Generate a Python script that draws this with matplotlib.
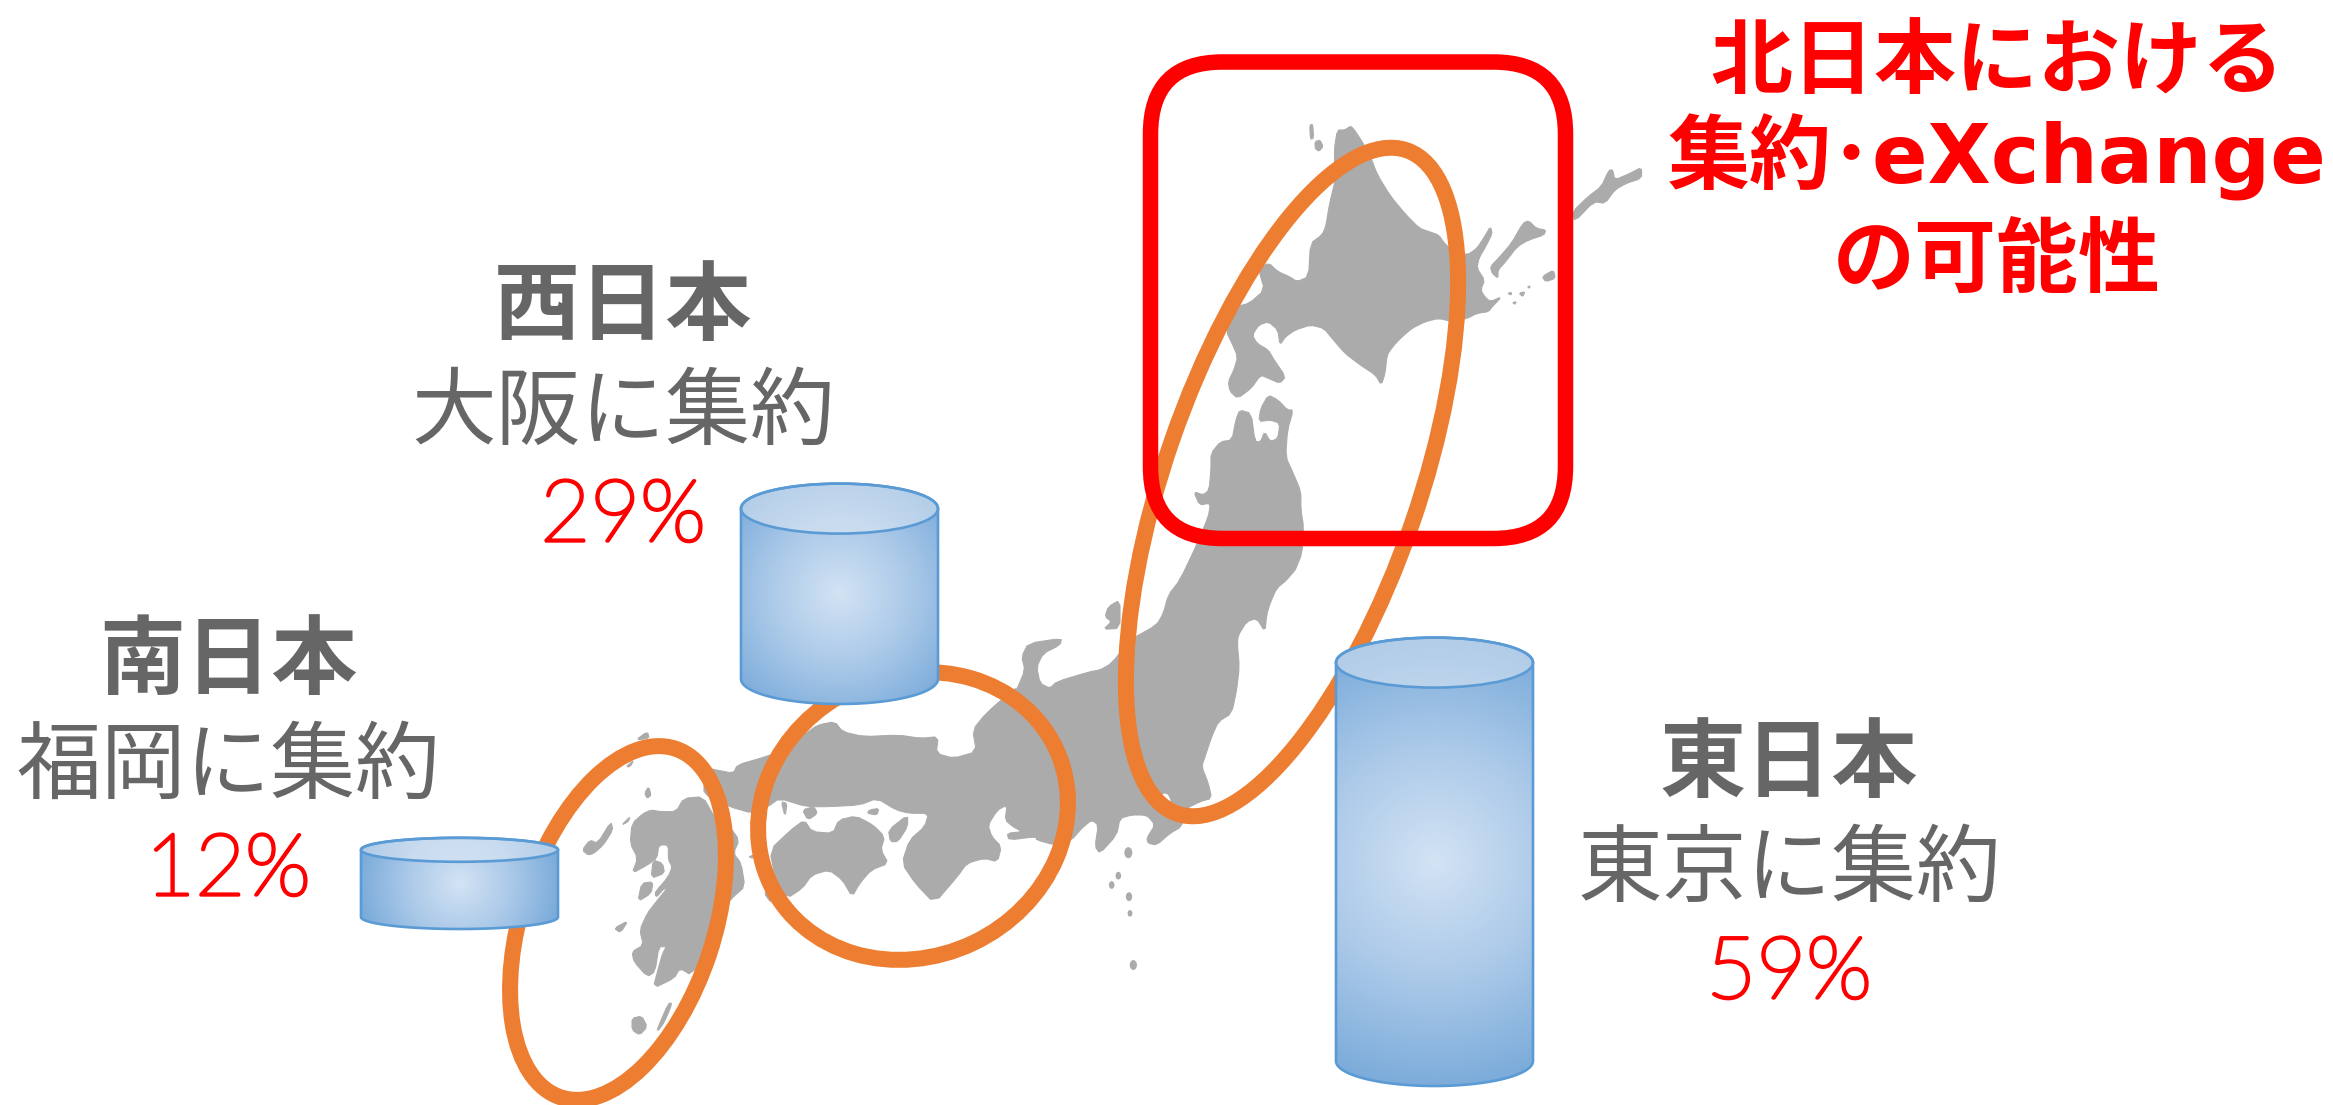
import numpy as np
import matplotlib
matplotlib.use('Agg')
import matplotlib.pyplot as plt
import matplotlib.patheffects as pe
from matplotlib.patches import Ellipse, FancyBboxPatch, Polygon
from matplotlib.colors import LinearSegmentedColormap

W, H = 2333, 1105

# share of traffic per region and the text around it
regions = ['西日本', '南日本', '東日本']
hubs = ['大阪に集約', '福岡に集約', '東京に集約']
shares = [29, 12, 59]
title_lines = ['北日本における', '集約･eXchange', 'の可能性']

GREY = '#666666'
RED = '#FF0000'
ORANGE = '#ED7D31'
LAND = '#ABABAB'
EDGE = '#5B9BD5'

PX_PER_PCT = 7.6

# outlines are traced on three local grids: (x0, y0, x scale, y scale)
NORTH = (1100, 80, 2.613, 3)
EAST = (1000, 500, 3, 3)
WEST = (500, 650, 2.613, 3)

hokkaido = [(620,150),(640,150),(655,138),(665,150),(685,185),(705,225),(725,285),(760,350),(800,405),
    (835,445),(860,455),(885,465),(900,490),(925,515),(960,525),(985,505),(1005,470),(1020,440),(1025,460),
    (1010,495),(990,535),(985,565),(1005,600),(995,630),(1005,650),(1020,665),(1050,650),(1025,680),(1015,695),
    (985,700),(960,715),(920,725),(885,715),(850,725),(815,745),(785,775),(765,800),(750,825),(745,880),
    (735,915),(720,885),(680,855),(640,820),(610,780),(585,745),(550,735),(510,750),(485,770),(470,795),
    (465,750),(440,725),(415,735),(398,765),(410,790),(440,810),(455,840),(485,890),(470,910),(440,895),
    (420,885),(395,925),(360,955),(340,935),(335,905),(350,870),(360,830),(345,790),(330,755),(345,700),
    (355,680),(390,670),(430,630),(415,570),(440,548),(465,575),(495,590),(515,605),(545,590),(550,490),
    (580,465),(590,440),(600,370),(615,300),(612,210)]
north_islands = [
    [(548,135),(556,133),(558,175),(550,178)],
    [(562,185),(575,180),(583,200),(572,214),(562,205)],
    [(1020,560),(1045,530),(1075,490),(1105,430),(1120,422),(1140,445),(1165,450),(1160,465),(1120,480),
     (1090,500),(1060,545),(1040,570),(1040,595),(1025,580)],
    [(1235,395),(1275,350),(1310,320),(1330,270),(1340,270),(1345,300),(1385,280),(1415,262),(1415,295),
     (1375,310),(1345,330),(1320,370),(1290,365),(1240,425)],
    [(1155,590),(1185,570),(1190,595),(1165,605)],
    [(1065,640),(1075,637),(1075,645)],
    [(1095,640),(1110,635),(1105,650)],
    [(1117,620),(1124,618),(1122,625)],
    [(1078,668),(1088,665),(1084,673)],
]

honshu_north = [(290,1120),(315,1085),(345,1080),(355,1020),(365,990),(395,1000),(405,1085),(420,1085),(430,1055),
    (445,1085),(465,1075),(470,1030),(445,1020),(415,1025),(420,985),(440,945),(465,960),(490,990),(505,990),
    (490,1050),(485,1130),(505,1180),(525,1235),(525,1290),(532,1340),(528,1420),(510,1470)]
honshu_east = [(885,210),(860,240),(830,265),(810,310),(800,345),(795,395),(770,355),(740,365),(715,405),(712,430),
    (718,500),(710,570),(695,640),(655,665),(635,710),(615,770),(605,800),(625,850),(635,895),(600,905),
    (560,925),(545,980),(510,1000),(470,1035),(445,1030),(440,1015),(465,975),(445,950),(430,945),(395,945),
    (360,955),(350,1005),(300,1060),(285,1040),(295,975),(275,960),(245,985),(215,1020),(165,1035),(110,1020)]
honshu_south = [(1400,560),(1330,570),(1325,550),(1365,545),(1340,530),(1320,510),(1325,465),(1300,480),(1275,525),
    (1285,560),(1310,590),(1300,635),(1265,625),(1220,640),(1195,680),(1135,760),(1085,700),(1050,640),(1070,570),
    (1110,530),(1120,490),(1070,490),(1035,480),(985,445),(940,465),(860,470),(800,470),(730,445),(700,470),
    (660,490),(600,470),(545,440),(530,420),(545,355),(565,360),(610,370),(620,345),(680,325),(720,310),(800,250),
    (830,225),(875,215),(895,245),(950,260),(1040,255),(1100,265),(1145,260),(1140,310),(1185,325),(1245,305),
    (1235,240),(1270,190),(1345,115)]
honshu_noto = [(50,570),(75,510),(65,470),(85,430),(185,415),(180,435),(130,460),(110,500),(120,550),(150,565),
    (170,545),(270,515),(300,510),(335,490),(390,420),(470,375),(490,340),(505,285),(540,240),(590,135),(625,50),(630,20)]
honshu_oga = [(285,1270),(260,1275),(245,1235),(270,1245),(285,1230),(290,1170)]
tokyo_bay = [(470,890),(500,880),(512,905),(498,912),(480,900)]
sado = [(310,388),(335,365),(315,350),(325,320),(360,300),(360,385)]

shikoku = [(705,600),(760,540),(795,510),(815,545),(870,550),(885,510),(930,498),(975,525),(1005,560),(995,600),
    (1015,640),(970,660),(940,700),(920,740),(895,690),(860,660),(815,675),(790,715),(750,745),(720,690)]
kyushu = [(480,445),(530,440),(560,500),(600,530),(625,570),(610,610),(630,640),(640,710),(610,740),(595,760),
    (570,850),(540,900),(500,975),(470,955),(455,985),(400,1015),(415,950),(425,910),(435,890),(415,890),(405,965),
    (385,980),(350,935),(345,905),(375,885),(365,840),(385,790),(405,760),(440,710),(425,720),(400,735),(440,680),
    (450,650),(440,630),(440,585),(415,585),(410,625),(385,645),(345,670),(360,625),(340,580),(345,520),(375,490),
    (395,480),(420,485),(460,485)]
west_islands = [
    [(1015,540),(1065,495),(1065,530),(1040,575),(1020,575)],
    [(735,455),(750,460),(745,500)],
    [(790,480),(820,470),(830,490),(805,510)],
    [(965,480),(990,475),(985,495),(960,490)],
    [(400,630),(425,640),(430,670),(395,685)],
    [(360,755),(370,700),(400,695),(395,730)],
    [(405,735),(420,705),(425,720),(410,740)],
    [(355,270),(385,245),(390,265)],
    [(330,350),(350,330),(340,350)],
    [(378,430),(388,410),(395,435),(385,445)],
    [(215,600),(235,570),(255,580),(290,515),(295,540),(270,585),(245,610),(230,615)],
    [(318,525),(340,500),(335,515)],
    [(298,835),(335,812),(315,848)],
    [(410,1140),(440,1060),(450,1060),(430,1115),(415,1140)],
    [(345,1105),(370,1098),(385,1130),(365,1155),(345,1140)],
    [(650,620),(665,615),(660,625)],
    [(690,730),(705,720),(710,760)],
]
izu_islands = [(385,1058,10),(355,1127,7),(335,1155,7),(387,1190,8),(390,1240,6),(400,1395,9)]

def place(points, grid):
    x0, y0, sx, sy = grid
    return [(x0 + x / sx, y0 + y / sy) for x, y in points]

def soften(points, cut=0.2):
    # one pass of corner cutting so the coast is not so angular
    pts = np.array(points, dtype=float)
    nxt = np.roll(pts, -1, axis=0)
    out = np.empty((len(pts) * 2, 2))
    out[0::2] = pts + cut * (nxt - pts)
    out[1::2] = pts + (1 - cut) * (nxt - pts)
    return out

def land(points, color=LAND, z=1):
    ax.add_patch(Polygon(soften(points), closed=True, fc=color, ec=color, lw=0.8, zorder=z))

def ring(cx, cy, minor, major, angle):
    ax.add_patch(Ellipse((cx, cy), minor, major, angle=angle, fc='none', ec=ORANGE, lw=16 * 0.72, zorder=3))

def cylinder(left, right, bottom, share, rim):
    top = bottom - share * PX_PER_PCT
    cx, rx = (left + right) / 2, (right - left) / 2
    y_top, y_bot = top + rim, bottom - rim
    cy = (top + bottom) / 2
    reach = np.hypot(rx, (bottom - top) / 2)
    # radial fill, bright in the middle of the can
    xx, yy = np.meshgrid(np.linspace(left, right, 200), np.linspace(top, bottom, 400))
    t = np.clip(np.hypot(xx - cx, yy - cy) / reach, 0, 1)
    body = ax.imshow(t, cmap=body_cmap, vmin=0, vmax=1, extent=(left, right, bottom, top),
                     zorder=4, interpolation='bilinear', aspect='auto')
    angles = np.linspace(0, np.pi, 60)
    outline = [(left, y_top)] + [(cx - rx * np.cos(a), y_bot + rim * np.sin(a)) for a in angles] + [(right, y_top)]
    arc_top = [(cx + rx * np.cos(a), y_top - rim * np.sin(a)) for a in angles]
    shape = Polygon(outline + arc_top, closed=True, fc='none', ec=EDGE, lw=1.9, zorder=6)
    ax.add_patch(shape)
    body.set_clip_path(shape)
    lid = ax.imshow(t, cmap=lid_cmap, vmin=0, vmax=1, extent=(left, right, bottom, top),
                    zorder=5, interpolation='bilinear', aspect='auto')
    cap = Ellipse((cx, y_top), 2 * rx, 2 * rim, fc='none', ec=EDGE, lw=1.9, zorder=6)
    ax.add_patch(cap)
    lid.set_clip_path(cap)

body_cmap = LinearSegmentedColormap.from_list('body', ['#D3E3F4', '#A9C8E8', '#74A7D8'])
lid_cmap = LinearSegmentedColormap.from_list('lid', ['#D6E4F4', '#C8DBEF', '#AECAE7'])

plt.rcParams['font.family'] = ['Noto Sans CJK JP', 'DejaVu Sans']

fig = plt.figure(figsize=(W / 100, H / 100), dpi=100, facecolor='white')
ax = fig.add_axes([0, 0, 1, 1])

# the main island is stitched together from its traced pieces
honshu = (place(honshu_north, NORTH) + place(honshu_east, EAST) + place(honshu_south, WEST)
          + place(honshu_noto, EAST) + place(honshu_oga, NORTH))
land(honshu)
land(place(tokyo_bay, EAST), color='white', z=1.5)
land(place(sado, EAST))
land(place(hokkaido, NORTH))
for isl in north_islands:
    land(place(isl, NORTH))
land(place(shikoku, WEST))
land(place(kyushu, WEST))
for isl in west_islands:
    land(place(isl, WEST))
for x, y, r in izu_islands:
    ax.add_patch(Ellipse((EAST[0] + x / 3, EAST[1] + y / 3), r * 0.8, r * 1.1, fc=LAND, ec='none', zorder=1))

ring(1292, 482, 254, 702, 19.1)
ring(913, 816, 281, 316, 64.6)
ring(618, 923, 192.6, 367, 18.2)

ax.add_patch(FancyBboxPatch((1150.5, 62), 415, 476.5, boxstyle='round,pad=0,rounding_size=72',
                            fc='none', ec=RED, lw=15.5 * 0.72, zorder=3.5))

cylinder(741, 938, 704, shares[0], 25)
cylinder(361, 558, 929, shares[1], 12)
cylinder(1336, 1533, 1086, shares[2], 25)

label_x = [623, 228, 1789]
label_y = [308, 662, 765]
for name, hub, share, x, y in zip(regions, hubs, shares, label_x, label_y):
    ax.text(x, y, name, ha='center', va='center', fontsize=62, fontweight='bold', color=GREY, zorder=7)
    ax.text(x, y + 106, hub, ha='center', va='center', fontsize=61, color=GREY, zorder=7)
    ax.text(x, y + 210, f'{share}%', ha='center', va='center', fontsize=62, color=RED, zorder=7,
            family=['Lato', 'DejaVu Sans'], fontweight='light',
            path_effects=[pe.withStroke(linewidth=2.4, foreground=RED)])

# the latin part of the middle line runs wider than the kana lines
title_fonts = [['Noto Sans CJK JP'], ['DejaVu Sans', 'Noto Sans CJK JP'], ['Noto Sans CJK JP']]
for line, y, fam in zip(title_lines, [63, 157, 263], title_fonts):
    ax.text(1997, y, line, ha='center', va='center', fontsize=59, fontweight='bold', color=RED, zorder=7, family=fam)

ax.set_xlim(0, W)
ax.set_ylim(H, 0)
ax.axis('off')
fig.savefig('out.png', dpi=100, facecolor='white')
